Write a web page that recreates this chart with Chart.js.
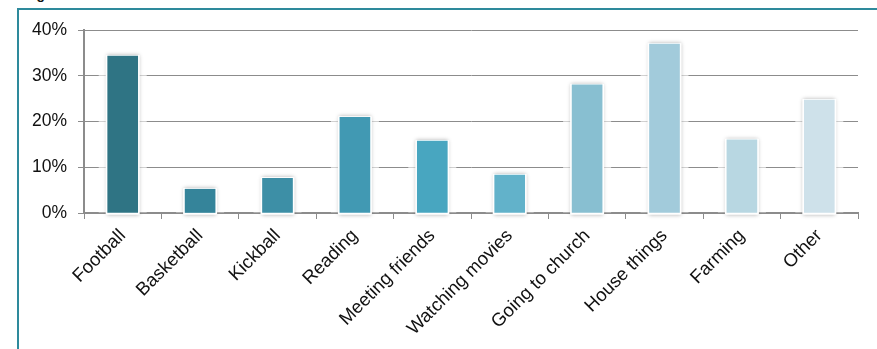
<!DOCTYPE html>
<html>
<head>
<meta charset="utf-8">
<script src="https://cdn.jsdelivr.net/npm/chart.js@4.4.1/dist/chart.umd.min.js"></script>
<style>
  html, body { margin: 0; padding: 0; background: #fff; overflow: hidden; }
  #wrap { position: relative; width: 877px; height: 349px; }
  #frame {
    position: absolute; left: 17px; top: 8px; width: 900px; height: 400px;
    border-left: 2px solid #2e8a9c; border-top: 2px solid #2e8a9c;
  }
  #caption {
    position: absolute; left: 24px; top: -13px; margin: 0;
    font: bold 14px "Liberation Sans", Arial, sans-serif; color: #111; line-height: 14px;
  }
  canvas { position: absolute; left: 0; top: 0; }
</style>
</head>
<body>
<div id="wrap">
  <div id="frame"></div>
  <p id="caption">Figure</p>
  <canvas id="activitiesChart" width="877" height="349"></canvas>
</div>
<script>
// activities and share of respondents (%)
const activities = ['Football', 'Basketball', 'Kickball', 'Reading', 'Meeting friends',
  'Watching movies', 'Going to church', 'House things', 'Farming', 'Other'];
const shares = [34.3, 5.2, 7.6, 20.9, 15.7, 8.3, 28.0, 36.9, 16.0, 24.7];
const barColors = ['#2f7484', '#35849a', '#3d8fa6', '#4199b3', '#48a6c0',
  '#62b2ca', '#88bfd1', '#a2cbdb', '#b8d7e2', '#cee1ea'];

// soft white halo with a faint shadow behind every bar
const barHalo = {
  id: 'barHalo',
  beforeDatasetsDraw(chart) {
    const ctx = chart.ctx;
    const meta = chart.getDatasetMeta(0);
    ctx.save();
    meta.data.forEach(bar => {
      const w = bar.width;
      const left = bar.x - w / 2;
      const top = bar.y;
      const h = bar.base - bar.y;
      ctx.fillStyle = 'rgba(255,255,255,0.6)';
      ctx.fillRect(left - 9, top - 3, w + 18, h + 3);
      ctx.shadowColor = 'rgba(0,0,0,0.3)';
      ctx.shadowBlur = 4;
      ctx.fillStyle = '#ffffff';
      ctx.fillRect(left - 1, top - 1, w + 2, h + 3);
      ctx.shadowColor = 'transparent';
      ctx.fillRect(left - 2, top - 1, w + 4, h + 3);
    });
    ctx.restore();
  }
};

const font = '"Liberation Sans", Arial, sans-serif';
const ctx = document.getElementById('activitiesChart').getContext('2d');
new Chart(ctx, {
  type: 'bar',
  data: {
    labels: activities,
    datasets: [{
      data: shares,
      backgroundColor: barColors,
      borderWidth: 0,
      barThickness: 30
    }]
  },
  options: {
    responsive: false,
    animation: false,
    layout: { padding: { top: 30, right: 19, left: 0, bottom: 0 } },
    plugins: { legend: { display: false }, tooltip: { enabled: false } },
    scales: {
      x: {
        afterFit(scale) { scale.height = 136; },
        grid: {
          display: true, drawOnChartArea: false, tickLength: 6,
          color: '#8c8c8c', lineWidth: 1
        },
        border: { color: '#8c8c8c', width: 2 },
        ticks: {
          minRotation: 45, maxRotation: 45, padding: 6,
          color: '#111',
          font: { family: font, size: 18.5 }
        }
      },
      y: {
        min: 0, max: 40,
        afterFit(scale) { scale.width = 84; },
        grid: { color: '#8c8c8c', lineWidth: 1, tickLength: 6 },
        border: { color: '#8c8c8c', width: 2 },
        ticks: {
          stepSize: 10, padding: 11, color: '#111',
          callback: v => v + '%',
          font: { family: font, size: 17.5 }
        }
      }
    }
  },
  plugins: [barHalo]
});
</script>
</body>
</html>
